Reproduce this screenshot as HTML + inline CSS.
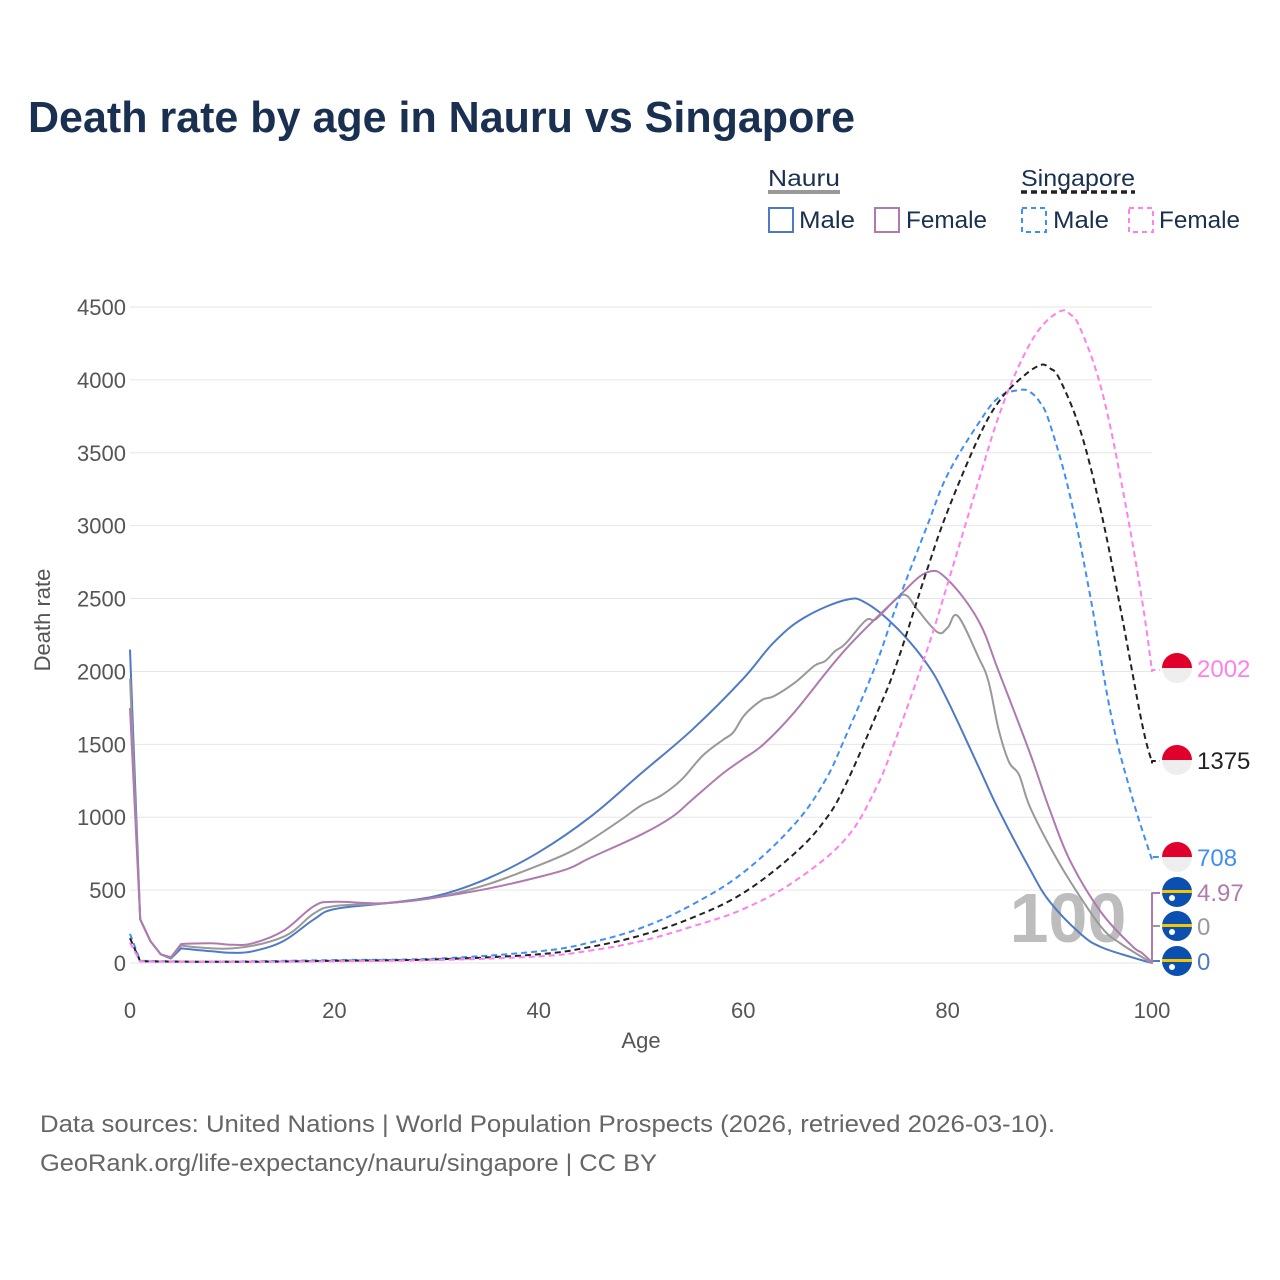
<!DOCTYPE html>
<html><head><meta charset="utf-8"><style>
html,body{margin:0;padding:0;background:#fff;}
svg{display:block;font-family:"Liberation Sans",sans-serif;}
</style></head><body>
<svg id="chart" width="1280" height="1280" viewBox="0 0 1280 1280">
<text x="28" y="132" font-size="44" font-weight="bold" fill="#1a3050" textLength="827" lengthAdjust="spacingAndGlyphs">Death rate by age in Nauru vs Singapore</text>
<g>
 <text x="768" y="186" font-size="23" fill="#1a3050" textLength="72" lengthAdjust="spacingAndGlyphs">Nauru</text>
 <line x1="768" y1="192" x2="840" y2="192" stroke="#999" stroke-width="4"/>
 <text x="1021" y="186" font-size="23" fill="#1a3050" textLength="114" lengthAdjust="spacingAndGlyphs">Singapore</text>
 <line x1="1021" y1="192" x2="1135" y2="192" stroke="#222" stroke-width="3.5" stroke-dasharray="6,4"/>
 <g><rect x="769" y="208" width="24" height="24" fill="none" stroke="#4e7ac7" stroke-width="2"/><text x="799" y="228" font-size="24" fill="#1a3050" textLength="56" lengthAdjust="spacingAndGlyphs">Male</text></g>
 <g><rect x="875" y="208" width="24" height="24" fill="none" stroke="#b07aaf" stroke-width="2"/><text x="906" y="228" font-size="24" fill="#1a3050" textLength="81" lengthAdjust="spacingAndGlyphs">Female</text></g>
 <g><rect x="1022" y="208" width="24" height="24" fill="none" stroke="#3f8ff5" stroke-width="2" stroke-dasharray="5,4"/><text x="1053" y="228" font-size="24" fill="#1a3050" textLength="56" lengthAdjust="spacingAndGlyphs">Male</text></g>
 <g><rect x="1129" y="208" width="24" height="24" fill="none" stroke="#ff80ea" stroke-width="2" stroke-dasharray="5,4"/><text x="1159" y="228" font-size="24" fill="#1a3050" textLength="81" lengthAdjust="spacingAndGlyphs">Female</text></g>
</g>
<g id="grid"></g>
<g id="axes"></g>
<text x="1068" y="942" font-size="70" font-weight="bold" fill="#bdbdbd" text-anchor="middle">100</text>
<g id="series"></g>
<g id="labels"></g>
<text x="641" y="1048" font-size="22" fill="#555" text-anchor="middle">Age</text>
<text transform="translate(50,620) rotate(-90)" font-size="22" fill="#555" text-anchor="middle">Death rate</text>
<text x="40" y="1132" font-size="24" fill="#666" textLength="1015" lengthAdjust="spacingAndGlyphs">Data sources: United Nations | World Population Prospects (2026, retrieved 2026-03-10).</text>
<text x="40" y="1171" font-size="24" fill="#666" textLength="617" lengthAdjust="spacingAndGlyphs">GeoRank.org/life-expectancy/nauru/singapore | CC BY</text>
</svg>
<script>
const yTicks = [0,500,1000,1500,2000,2500,3000,3500,4000,4500];
const xTicks = [0,20,40,60,80,100];
const nmAges = [0,1,2,3,4,5,8,10,12,15,18,20,25,30,35,40,45,50,55,60,63,66,70,72,75,78,80,83,85,88,90,93,95,98,100];
const nmVals = [2150,300,150,60,30,100,80,70,80,150,300,370,410,460,580,760,1000,1300,1600,1950,2200,2370,2490,2470,2300,2050,1800,1350,1050,650,420,200,110,40,0];
const nfAges = [0,1,2,3,4,5,8,10,12,15,18,20,25,30,35,40,43,45,50,53,55,58,60,62,65,70,75,78,80,83,85,88,90,92,95,98,99,100];
const nfVals = [1750,300,150,60,40,130,135,125,135,220,390,420,410,450,510,590,650,720,880,1000,1120,1300,1400,1500,1720,2150,2500,2680,2630,2350,2000,1450,1050,700,350,120,70,5];
const ntAges = [0,1,2,3,4,5,10,15,18,20,25,30,35,40,43,45,48,50,52,54,56,58,59,60,61,62,63,65,67,68,69,70,72,73,75,76,77,79,80,81,83,84,85,86,87,88,90,92,95,97,100];
const ntVals = [1950,300,150,60,35,120,100,180,340,390,410,450,540,670,760,840,980,1080,1150,1260,1420,1530,1580,1690,1760,1810,1830,1920,2040,2070,2140,2190,2350,2360,2500,2520,2430,2270,2300,2380,2100,1930,1600,1380,1290,1080,800,560,250,130,0];
const smAges = [0,1,5,10,20,30,40,45,50,55,60,65,68,70,73,75,78,80,83,85,87,88,89,90,92,94,96,98,100];
const smVals = [200,15,10,10,20,30,80,140,240,400,620,950,1250,1550,2050,2450,3000,3350,3700,3880,3930,3920,3850,3700,3200,2500,1700,1150,708];
const stAges = [0,1,10,20,30,40,45,50,55,60,65,68,70,73,75,78,80,83,85,87,89,90,91,93,95,97,99,100];
const stVals = [170,12,8,15,25,60,110,190,310,480,750,980,1220,1700,2050,2700,3100,3600,3850,4000,4100,4080,4000,3650,3100,2400,1650,1375];
const sfAges = [0,1,10,20,30,40,45,50,55,60,65,70,73,75,78,80,83,85,87,89,91,92,93,95,97,99,100];
const sfVals = [140,10,8,12,20,45,85,150,250,370,560,850,1200,1550,2150,2600,3300,3750,4100,4350,4470,4450,4350,3950,3300,2500,2002];
const endLabels = ["2002","1375","708","4.97","0","0"];

const NS="http://www.w3.org/2000/svg";
const X=a=>130+a*10.22;
const Y=v=>963-v*656/4500;
function mk(tag,attrs,parent){const e=document.createElementNS(NS,tag);for(const k in attrs)e.setAttribute(k,attrs[k]);parent.appendChild(e);return e;}
const grid=document.getElementById('grid'),axes=document.getElementById('axes'),series=document.getElementById('series'),labels=document.getElementById('labels');
yTicks.forEach(t=>{
 const l=mk('line',{x1:130,x2:1152,y1:Y(t),y2:Y(t),stroke:'#e6e6e6','stroke-width':1},grid);
 
 
 const tx=mk('text',{x:126,y:Y(t)+8,'font-size':22,fill:'#555','text-anchor':'end'},axes);
 tx.textContent=t;
 
 
});
xTicks.forEach(t=>{
 const tx=mk('text',{x:X(t),y:1018,'font-size':22,fill:'#555','text-anchor':'middle'},axes);
 tx.textContent=t;
 
 
});
function smooth(p,ages){
 let d='M'+p[0][0].toFixed(1)+','+p[0][1].toFixed(1);
 for(let i=0;i<p.length-1;i++){
  const p0=p[Math.max(0,i-1)],p1=p[i],p2=p[i+1],p3=p[Math.min(p.length-1,i+2)];
  if(ages[i+1]<=5){d+=` L${p2[0].toFixed(1)},${p2[1].toFixed(1)}`;continue;}
  const t=0.18;
  const s0=ages[i]<=5?0:1;
  const c1x=p1[0]+(p2[0]-p0[0])*t*s0,c1y=p1[1]+(p2[1]-p0[1])*t*s0;
  const c2x=p2[0]-(p3[0]-p1[0])*t,c2y=p2[1]-(p3[1]-p1[1])*t;
  d+=` C${c1x.toFixed(1)},${c1y.toFixed(1)} ${c2x.toFixed(1)},${c2y.toFixed(1)} ${p2[0].toFixed(1)},${p2[1].toFixed(1)}`;
 }
 return d;
}
function line(ages,vals,color,dash,name,ly){
 const pts=ages.map((a,i)=>[X(a),Y(vals[i])]);
 const d=smooth(pts,ages)+` L1152,${ly} L1160,${ly}`;
 const p=mk('path',{d:d,fill:'none',stroke:color,'stroke-width':2,'stroke-linejoin':'round'},series);
 if(dash)p.setAttribute('stroke-dasharray','6,4');
 
 
}
line(nmAges,nmVals,'#4e7ac7',false,'line-nauru-male',961);
line(ntAges,ntVals,'#999999',false,'line-nauru-total',926);
line(nfAges,nfVals,'#b07aaf',false,'line-nauru-female',893);
line(smAges,smVals,'#3f8ff5',true,'line-singapore-male',857);
line(stAges,stVals,'#222222',true,'line-singapore-total',761);
line(sfAges,sfVals,'#ff80ea',true,'line-singapore-female',670);
const lab=[[668,'#ff80ea','sg'],[760,'#222','sg'],[857,'#3f8ff5','sg'],[892,'#b07aaf','nr'],[926,'#999','nr'],[961,'#4e7ac7','nr']];
lab.forEach((d,i)=>{
 const g=mk('g',{},labels);
 
 
 const cx=1177,cy=d[0];
 if(d[2]==='sg'){
  mk('circle',{cx,cy,r:15,fill:'#eeeeee'},g);
  mk('path',{d:`M${cx-15},${cy} A15,15 0 0 1 ${cx+15},${cy} Z`,fill:'#e0002b'},g);
 }else{
  mk('circle',{cx,cy,r:15,fill:'#0b4fb0'},g);
  mk('rect',{x:cx-15,y:cy-2,width:30,height:3,fill:'#f7c600'},g);
  mk('circle',{cx:cx-5,cy:cy+6,r:3,fill:'#fff'},g);
 }
 const t=mk('text',{x:1197,y:cy+9,'font-size':24,fill:d[1]},g);
 t.textContent=endLabels[i];
});
</script>
</body></html>
